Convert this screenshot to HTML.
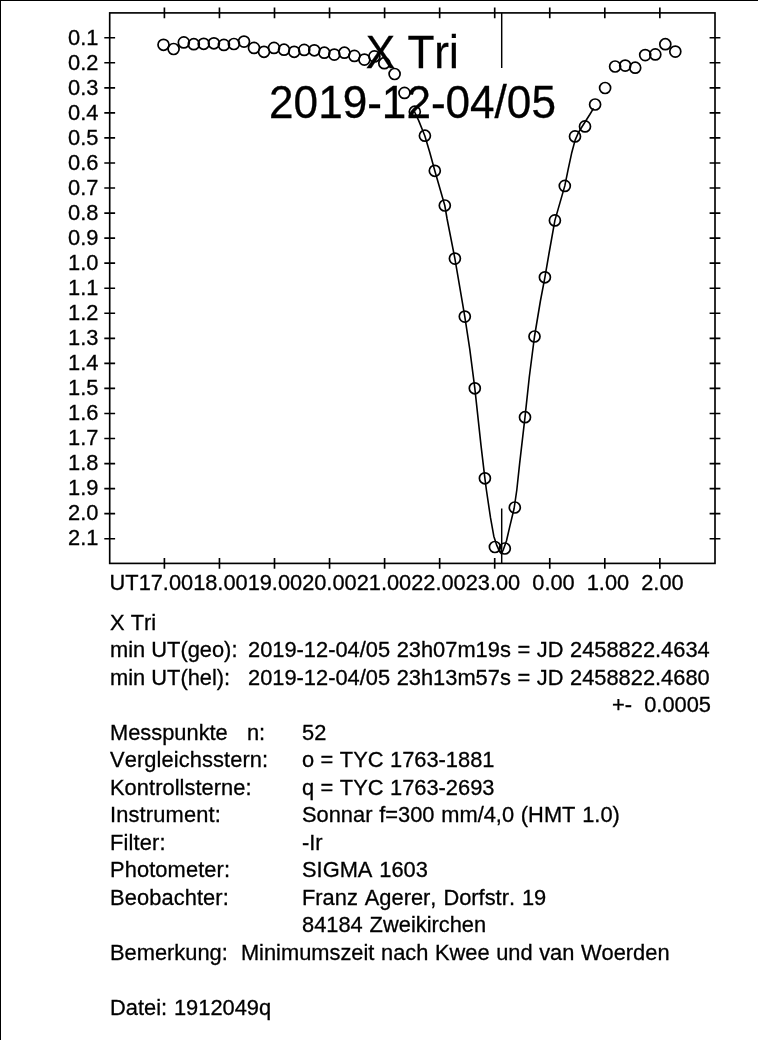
<!DOCTYPE html>
<html><head><meta charset="utf-8"><title>X Tri 2019-12-04/05</title>
<style>
html,body{margin:0;padding:0;background:#fff;}
body{width:758px;height:1040px;position:relative;overflow:hidden;font-family:"Liberation Sans",sans-serif;color:#000;}
#bt{position:absolute;left:0;top:0;width:758px;height:1px;background:#000;}
#bl{position:absolute;left:0;top:0;width:1px;height:1040px;background:#000;}
svg{position:absolute;left:0;top:0;will-change:transform;}
svg text{font-family:"Liberation Sans",sans-serif;fill:#000;font-kerning:none;stroke:#000;stroke-width:0.3px;}
.t{-webkit-text-stroke:0.3px #000;font-kerning:none;will-change:transform;transform:scaleY(1.03);transform-origin:0 19px;position:absolute;white-space:pre;font-size:21.85px;line-height:24px;height:24px;}
</style></head><body>
<div id="bt"></div><div id="bl"></div>

<svg width="758" height="1040" viewBox="0 0 758 1040">
<rect x="109.7" y="12.9" width="605.3" height="550.5" fill="none" stroke="#000" stroke-width="1.65"/>
<path d="M104.30 37.70H115.10M709.60 37.70H720.40M104.30 62.75H115.10M709.60 62.75H720.40M104.30 87.80H115.10M709.60 87.80H720.40M104.30 112.85H115.10M709.60 112.85H720.40M104.30 137.90H115.10M709.60 137.90H720.40M104.30 162.95H115.10M709.60 162.95H720.40M104.30 188.00H115.10M709.60 188.00H720.40M104.30 213.05H115.10M709.60 213.05H720.40M104.30 238.10H115.10M709.60 238.10H720.40M104.30 263.15H115.10M709.60 263.15H720.40M104.30 288.20H115.10M709.60 288.20H720.40M104.30 313.25H115.10M709.60 313.25H720.40M104.30 338.30H115.10M709.60 338.30H720.40M104.30 363.35H115.10M709.60 363.35H720.40M104.30 388.40H115.10M709.60 388.40H720.40M104.30 413.45H115.10M709.60 413.45H720.40M104.30 438.50H115.10M709.60 438.50H720.40M104.30 463.55H115.10M709.60 463.55H720.40M104.30 488.60H115.10M709.60 488.60H720.40M104.30 513.65H115.10M709.60 513.65H720.40M104.30 538.70H115.10M709.60 538.70H720.40M164.40 7.50V18.30M164.40 558.00V568.80M219.45 7.50V18.30M219.45 558.00V568.80M274.50 7.50V18.30M274.50 558.00V568.80M329.55 7.50V18.30M329.55 558.00V568.80M384.60 7.50V18.30M384.60 558.00V568.80M439.65 7.50V18.30M439.65 558.00V568.80M494.70 7.50V18.30M494.70 558.00V568.80M549.75 7.50V18.30M549.75 558.00V568.80M604.80 7.50V18.30M604.80 558.00V568.80M659.85 7.50V18.30M659.85 558.00V568.80" stroke="#000" stroke-width="1.65" fill="none"/>
<path d="M501.7 12.9V68M501.7 508.4V563.4" stroke="#000" stroke-width="1.45" fill="none"/>
<polyline points="414.4,111.5 418.7,120.6 424.8,135.7 429.8,152.5 434.8,170.8 444.8,205.5 447.1,219.0 454.9,258.6 464.8,316.6 469.8,349.3 474.8,388.1 481.0,445.4 484.9,478.3 486.4,490.0 490.5,517.7 493.8,536.2 496.8,545.4 499.5,551.5 501.4,553.6 503.2,550.0 506.5,540.8 509.7,526.9 514.1,508.5 516.8,490.0 519.6,463.9 525.0,417.2 529.3,377.0 534.5,336.5 540.4,301.0 544.9,277.3 548.9,254.0 554.9,220.4 564.8,185.9 568.1,169.6 571.6,153.3 575.2,139.9 578.7,132.0 585.2,121.7 589.8,114.5 593.5,108.4" stroke="#000" stroke-width="1.6" fill="none" stroke-linejoin="round"/>
<g fill="none" stroke="#000" stroke-width="1.7">
<circle cx="163.5" cy="44.8" r="5.5"/>
<circle cx="173.6" cy="49.0" r="5.5"/>
<circle cx="183.8" cy="42.4" r="5.5"/>
<circle cx="193.8" cy="44.2" r="5.5"/>
<circle cx="203.7" cy="43.8" r="5.5"/>
<circle cx="213.9" cy="43.3" r="5.5"/>
<circle cx="223.9" cy="44.9" r="5.5"/>
<circle cx="233.9" cy="44.0" r="5.5"/>
<circle cx="244.0" cy="41.6" r="5.5"/>
<circle cx="254.0" cy="47.9" r="5.5"/>
<circle cx="264.0" cy="51.8" r="5.5"/>
<circle cx="274.0" cy="47.9" r="5.5"/>
<circle cx="284.0" cy="49.7" r="5.5"/>
<circle cx="294.2" cy="51.8" r="5.5"/>
<circle cx="304.2" cy="49.9" r="5.5"/>
<circle cx="314.3" cy="50.3" r="5.5"/>
<circle cx="324.3" cy="52.7" r="5.5"/>
<circle cx="334.3" cy="54.6" r="5.5"/>
<circle cx="344.4" cy="52.7" r="5.5"/>
<circle cx="354.4" cy="55.9" r="5.5"/>
<circle cx="364.4" cy="59.6" r="5.5"/>
<circle cx="374.4" cy="56.4" r="5.5"/>
<circle cx="384.3" cy="63.2" r="5.5"/>
<circle cx="394.6" cy="74.0" r="5.5"/>
<circle cx="404.5" cy="92.9" r="5.5"/>
<circle cx="414.8" cy="111.7" r="5.5"/>
<circle cx="424.9" cy="135.7" r="5.5"/>
<circle cx="434.8" cy="170.8" r="5.5"/>
<circle cx="444.8" cy="205.5" r="5.5"/>
<circle cx="454.9" cy="258.6" r="5.5"/>
<circle cx="464.8" cy="316.6" r="5.5"/>
<circle cx="474.8" cy="388.3" r="5.5"/>
<circle cx="484.9" cy="478.3" r="5.5"/>
<circle cx="494.9" cy="547.0" r="5.5"/>
<circle cx="504.8" cy="548.5" r="5.5"/>
<circle cx="514.8" cy="507.5" r="5.5"/>
<circle cx="525.0" cy="417.2" r="5.5"/>
<circle cx="534.5" cy="336.5" r="5.5"/>
<circle cx="544.9" cy="277.3" r="5.5"/>
<circle cx="554.9" cy="220.4" r="5.5"/>
<circle cx="564.8" cy="185.9" r="5.5"/>
<circle cx="575.0" cy="136.4" r="5.5"/>
<circle cx="585.0" cy="126.4" r="5.5"/>
<circle cx="595.1" cy="104.5" r="5.5"/>
<circle cx="605.1" cy="88.0" r="5.5"/>
<circle cx="615.1" cy="66.5" r="5.5"/>
<circle cx="625.2" cy="65.6" r="5.5"/>
<circle cx="635.2" cy="67.7" r="5.5"/>
<circle cx="645.2" cy="55.1" r="5.5"/>
<circle cx="655.3" cy="54.4" r="5.5"/>
<circle cx="665.3" cy="44.2" r="5.5"/>
<circle cx="675.3" cy="51.6" r="5.5"/>
</g>
<g font-size="21.85">
<text transform="translate(68.05 45) scale(1 1.03)">0.1</text>
<text transform="translate(68.05 70) scale(1 1.03)">0.2</text>
<text transform="translate(68.05 95) scale(1 1.03)">0.3</text>
<text transform="translate(68.05 120) scale(1 1.03)">0.4</text>
<text transform="translate(68.05 145) scale(1 1.03)">0.5</text>
<text transform="translate(68.05 170) scale(1 1.03)">0.6</text>
<text transform="translate(68.05 195) scale(1 1.03)">0.7</text>
<text transform="translate(68.05 220) scale(1 1.03)">0.8</text>
<text transform="translate(68.05 245) scale(1 1.03)">0.9</text>
<text transform="translate(68.05 270) scale(1 1.03)">1.0</text>
<text transform="translate(68.05 295) scale(1 1.03)">1.1</text>
<text transform="translate(68.05 320) scale(1 1.03)">1.2</text>
<text transform="translate(68.05 345) scale(1 1.03)">1.3</text>
<text transform="translate(68.05 370) scale(1 1.03)">1.4</text>
<text transform="translate(68.05 395) scale(1 1.03)">1.5</text>
<text transform="translate(68.05 420) scale(1 1.03)">1.6</text>
<text transform="translate(68.05 445) scale(1 1.03)">1.7</text>
<text transform="translate(68.05 470) scale(1 1.03)">1.8</text>
<text transform="translate(68.05 495) scale(1 1.03)">1.9</text>
<text transform="translate(68.05 520) scale(1 1.03)">2.0</text>
<text transform="translate(68.05 545) scale(1 1.03)">2.1</text>
</g>
<text transform="translate(109.6 590) scale(1 1.03)" style="white-space:pre" font-size="21.8">UT17.0018.0019.0020.0021.0022.0023.00  0.00  1.00  2.00</text>
<g font-size="44.1" text-anchor="middle"><text transform="translate(412.3 67.7) scale(1 1.045)">X Tri</text><text transform="translate(412.5 117.6) scale(1 1.03)">2019<tspan dy="1.3">-</tspan><tspan dy="-1.3">12</tspan><tspan dy="1.3">-</tspan><tspan dy="-1.3">04/05</tspan></text></g>
</svg>
<div class="t" style="left:109.7px;top:611.0px;">X Tri</div>
<div class="t" style="left:109.7px;top:638.0px;">min UT(geo):</div>
<div class="t" style="left:248.3px;top:638.0px;word-spacing:0.5px;">2019-12-04/05 23h07m19s = JD 2458822.4634</div>
<div class="t" style="left:109.7px;top:666.0px;">min UT(hel):</div>
<div class="t" style="left:248.3px;top:666.0px;word-spacing:0.5px;">2019-12-04/05 23h13m57s = JD 2458822.4680</div>
<div class="t" style="right:46.7px;top:693.0px;">+-  0.0005</div>
<div class="t" style="left:109.7px;top:721.0px;word-spacing:0.3px;">Messpunkte   n:</div>
<div class="t" style="left:302.1px;top:721.0px;">52</div>
<div class="t" style="left:109.7px;top:748.0px;letter-spacing:0.1px;">Vergleichsstern:</div>
<div class="t" style="left:302.1px;top:748.0px;word-spacing:0.4px;">o = TYC 1763-1881</div>
<div class="t" style="left:109.7px;top:776.0px;letter-spacing:0.05px;">Kontrollsterne:</div>
<div class="t" style="left:302.1px;top:776.0px;word-spacing:0.4px;">q = TYC 1763-2693</div>
<div class="t" style="left:109.7px;top:803.0px;letter-spacing:0.15px;">Instrument:</div>
<div class="t" style="left:302.1px;top:803.0px;word-spacing:0.7px;">Sonnar f=300 mm/4,0 (HMT 1.0)</div>
<div class="t" style="left:109.7px;top:831.0px;letter-spacing:0.15px;">Filter:</div>
<div class="t" style="left:302.1px;top:831.0px;">-Ir</div>
<div class="t" style="left:109.7px;top:858.0px;letter-spacing:0.1px;">Photometer:</div>
<div class="t" style="left:302.1px;top:858.0px;word-spacing:0.8px;">SIGMA 1603</div>
<div class="t" style="left:109.7px;top:886.0px;letter-spacing:0.1px;">Beobachter:</div>
<div class="t" style="left:302.1px;top:886.0px;word-spacing:0.9px;">Franz Agerer, Dorfstr. 19</div>
<div class="t" style="left:302.1px;top:913.0px;word-spacing:0.8px;">84184 Zweikirchen</div>
<div class="t" style="left:109.7px;top:941.0px;word-spacing:0.5px;">Bemerkung:  Minimumszeit nach Kwee und van Woerden</div>
<div class="t" style="left:109.7px;top:996.0px;word-spacing:0.8px;">Datei: 1912049q</div>
</body></html>
